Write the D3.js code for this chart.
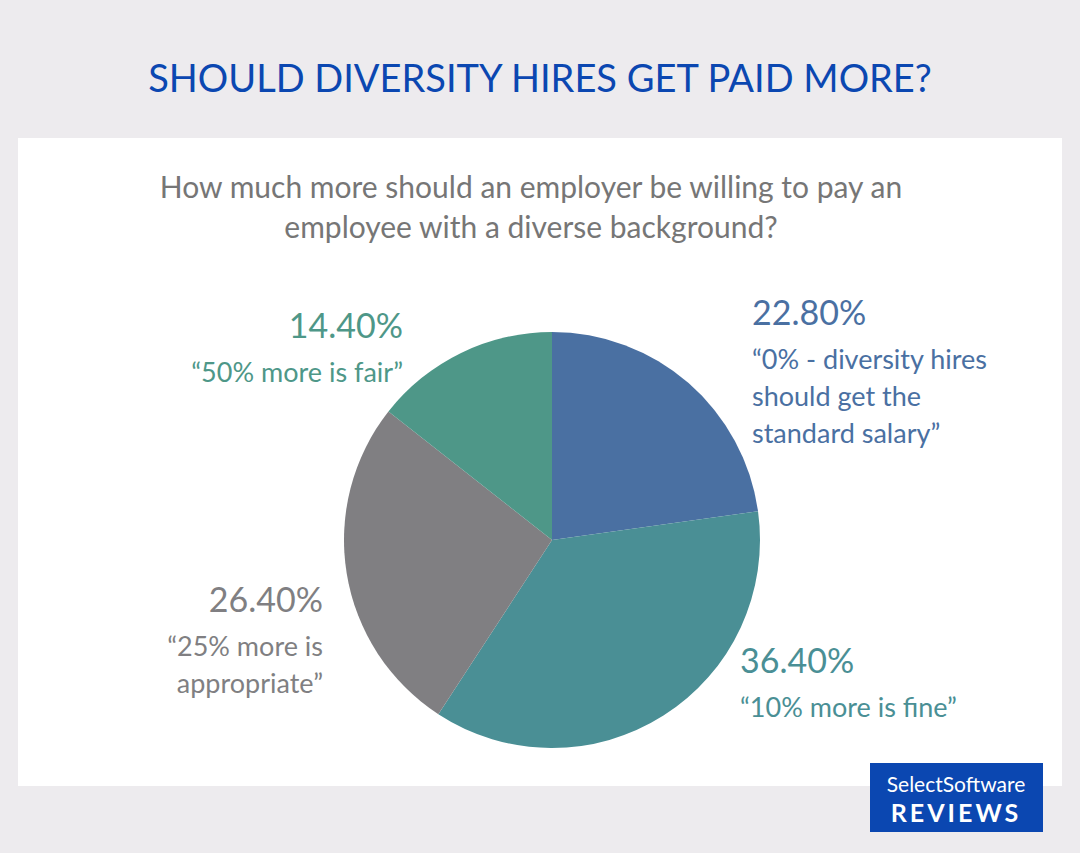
<!DOCTYPE html><html><head><meta charset="utf-8">
<script src="https://cdn.jsdelivr.net/npm/d3@7"></script>
<style>body{margin:0;background:#edebee}</style></head><body>
<svg id="c" width="1080" height="853"></svg>
<script>
const categories=["0% - diversity hires should get the standard salary","10% more is fine","25% more is appropriate","50% more is fair"];
const values=[22.8,36.4,26.4,14.4];
const colors=["#4a70a2","#4a8f95","#807f82","#4e9788"];
const labelLines=[["“0% - diversity hires","should get the","standard salary”"],["“10% more is fine”"],["“25% more is","appropriate”"],["“50% more is fair”"]];
const labelPos=[{x:752,y:325,a:"start"},{x:740,y:673,a:"start"},{x:323,y:612,a:"end"},{x:403,y:338,a:"end"}];
const svg=d3.select("#c");
const F="Lato, 'Open Sans', sans-serif";
svg.append("rect").attr("width",1080).attr("height",853).attr("fill","#edebee");
svg.append("text").attr("x",540).attr("y",92).attr("text-anchor","middle").attr("font-family",F).attr("font-size",38).attr("fill","#0b47b1").text("SHOULD DIVERSITY HIRES GET PAID MORE?");
svg.append("rect").attr("x",18).attr("y",138).attr("width",1044).attr("height",648).attr("fill","#fff");
["How much more should an employer be willing to pay an","employee with a diverse background?"].forEach((t,i)=>
svg.append("text").attr("x",531).attr("y",198+i*40).attr("text-anchor","middle").attr("font-family",F).attr("font-size",30).attr("fill","#767676").text(t));
const pie=d3.pie().sort(null)(values);
const arc=d3.arc().innerRadius(0).outerRadius(208);
const g=svg.append("g").attr("transform","translate(552,540)");
g.selectAll("path").data(pie).join("path").attr("d",arc).attr("fill",(d,i)=>colors[i]);
values.forEach((v,i)=>{const p=labelPos[i];
 svg.append("text").attr("x",p.x).attr("y",p.y).attr("text-anchor",p.a).attr("font-family",F).attr("font-size",34).attr("fill",colors[i]).text(v.toFixed(2)+"%");
 labelLines[i].forEach((t,j)=>svg.append("text").attr("x",p.x).attr("y",p.y+44+j*37).attr("text-anchor",p.a).attr("font-family",F).attr("font-size",27).attr("fill",colors[i]).text(t));
});
svg.append("rect").attr("x",870).attr("y",763).attr("width",173).attr("height",69).attr("fill","#0b47b1");
svg.append("text").attr("x",956).attr("y",792).attr("text-anchor","middle").attr("font-family",F).attr("font-size",21).attr("fill","#fff").text("SelectSoftware");
svg.append("text").attr("x",956).attr("y",822).attr("text-anchor","middle").attr("font-family",F).attr("font-size",25).attr("font-weight","bold").attr("letter-spacing",3).attr("fill","#fff").text("REVIEWS");
</script></body></html>
